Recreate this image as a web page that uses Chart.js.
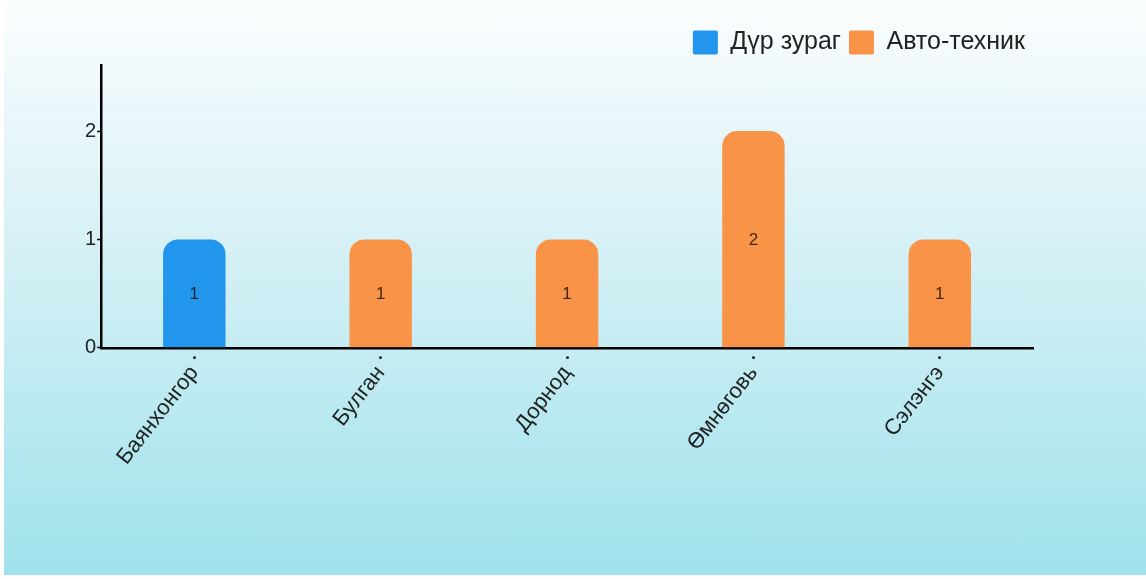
<!DOCTYPE html>
<html>
<head>
<meta charset="utf-8">
<script src="https://cdn.jsdelivr.net/npm/chart.js@4.4.0/dist/chart.umd.min.js"></script>
<style>
  html, body { margin: 0; padding: 0; background: #fff; }
  #fondo {
    position: absolute; left: 4px; top: 0; width: 1142px; height: 575px;
    background: linear-gradient(to bottom, #fbfdfe 0%, #d4f0f5 45%, #9fe2ec 100%);
  }
  #grafica { position: absolute; left: 0; top: 0; }
</style>
</head>
<body>
<div id="fondo"></div>
<canvas id="grafica" width="1146" height="579"></canvas>
<script>
// datos
var aimag = ["Баянхонгор", "Булган", "Дорнод", "Өмнөговь", "Сэлэнгэ"];
var durZurag = [1, 0, 0, 0, 0];
var avtoTehnik = [0, 1, 1, 2, 1];
var yTicks = [0, 1, 2];

var fuente = "'Liberation Sans', Arial, sans-serif";

// numeros dentro de las barras
var etiquetas = {
  id: "etiquetas",
  afterDatasetsDraw: function (chart) {
    var ctx = chart.ctx;
    ctx.save();
    ctx.font = "17px " + fuente;
    ctx.fillStyle = "rgba(20,10,0,0.8)";
    ctx.textAlign = "center";
    ctx.textBaseline = "middle";
    chart.data.datasets.forEach(function (ds, i) {
      chart.getDatasetMeta(i).data.forEach(function (bar, j) {
        if (!ds.data[j]) return;
        ctx.fillText(ds.data[j], bar.x, (bar.y + bar.base) / 2 + 1);
      });
    });
    ctx.restore();
  }
};

new Chart("grafica", {
  type: "bar",
  data: {
    labels: aimag,
    datasets: [{
      label: "Дүр зураг",
      data: durZurag,
      backgroundColor: "#2196EC",
      borderRadius: { topLeft: 15, topRight: 15 },
      borderSkipped: false,
      barPercentage: 0.335,
      categoryPercentage: 1
    }, {
      label: "Авто-техник",
      data: avtoTehnik,
      backgroundColor: "#F89347",
      borderRadius: { topLeft: 15, topRight: 15 },
      borderSkipped: false,
      barPercentage: 0.335,
      categoryPercentage: 1
    }]
  },
  options: {
    responsive: false,
    animation: false,
    layout: { padding: { left: 84, right: 113, top: 22, bottom: 107 } },
    plugins: {
      legend: {
        align: "end",
        labels: {
          boxWidth: 25, boxHeight: 24, useBorderRadius: true, borderRadius: 2,
          color: "#222", padding: 8,
          font: { size: 25, family: fuente }
        }
      },
      tooltip: { enabled: false }
    },
    scales: {
      x: {
        stacked: true,
        border: { color: "#000", width: 2.5 },
        grid: {
          offset: false, drawOnChartArea: false, tickLength: 11,
          tickColor: "#000", tickWidth: 2.5, tickBorderDash: [0, 7, 4, 100]
        },
        ticks: {
          color: "#222", maxRotation: 52, minRotation: 52, padding: 2,
          font: { size: 22, family: fuente }
        }
      },
      y: {
        stacked: true,
        min: 0, max: 2.61,
        afterBuildTicks: function (scale) {
          scale.ticks = yTicks.map(function (v) { return { value: v }; });
        },
        border: { color: "#000", width: 2.5 },
        grid: { drawOnChartArea: false, tickLength: 4, tickColor: "#000", tickWidth: 1.5 },
        ticks: {
          color: "#222", padding: 1,
          font: { size: 20, family: fuente }
        }
      }
    }
  },
  plugins: [etiquetas]
});
</script>
</body>
</html>
